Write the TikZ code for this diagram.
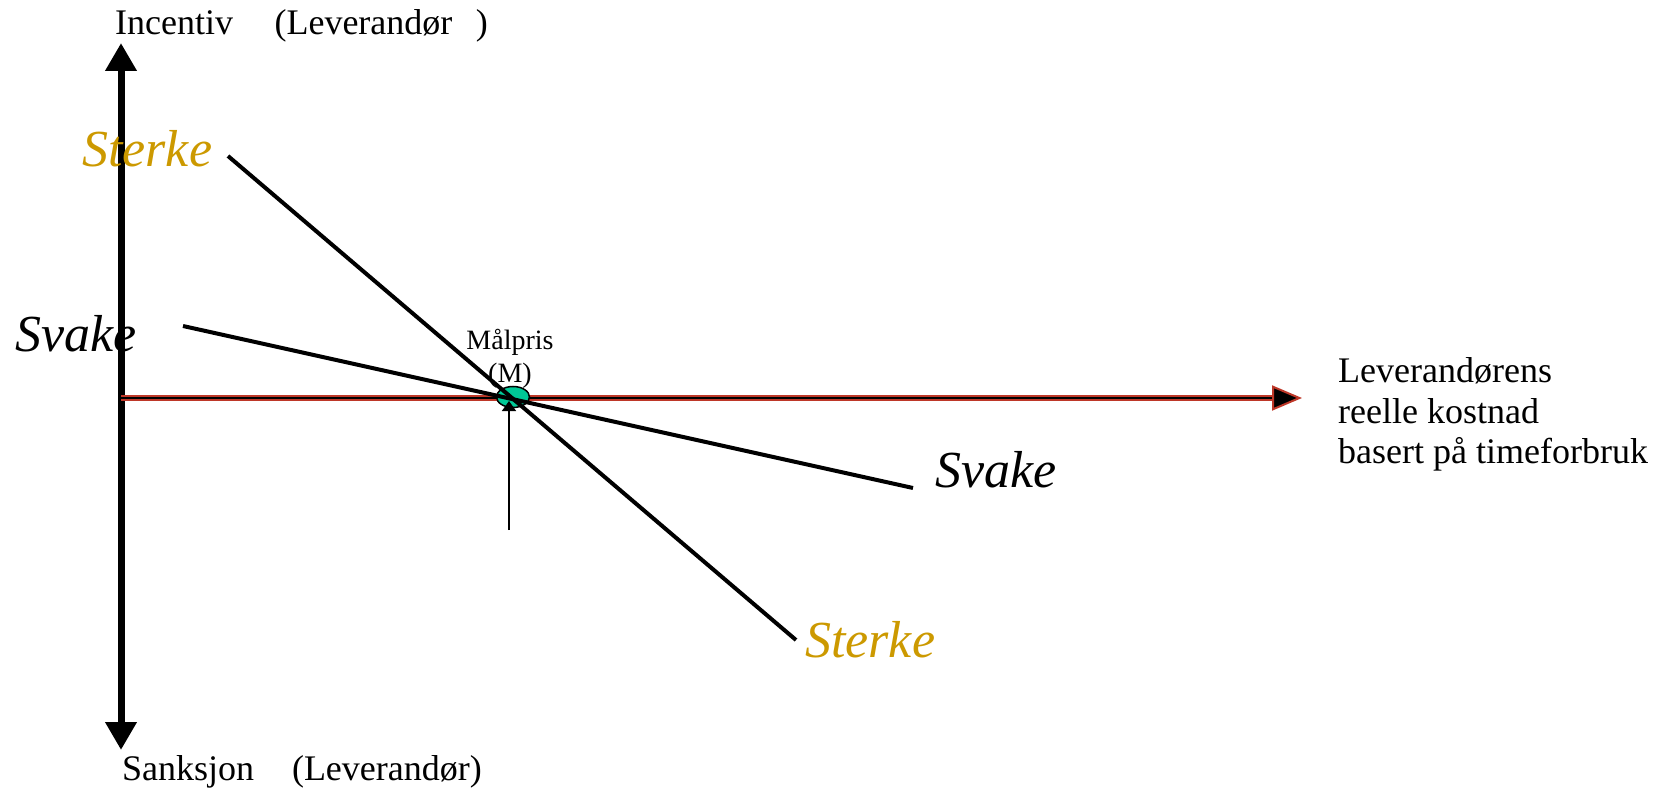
\documentclass[tikz,border=0pt]{standalone}
\usepackage{fontspec}
\setmainfont{Liberation Serif}
\usetikzlibrary{arrows.meta, shapes.geometric, positioning}
\definecolor{axisred}{RGB}{190,55,40}
\definecolor{sterkegold}{RGB}{204,153,0}
\definecolor{maalgreen}{RGB}{0,200,150}
\tikzset{
    axisLabel/.style={anchor=base west, inner sep=0pt, font=\fontsize{36}{40.5}\selectfont},
    bigLabel/.style={anchor=base west, inner sep=0pt, font=\fontsize{52}{58}\selectfont\itshape},
    vAxis/.style={{Triangle[length=28pt, width=30pt]}-{Triangle[length=28pt, width=30pt]}, line width=7pt},
    hAxis/.style={-{Triangle[length=30pt, width=25pt, color=axisred, fill=black]}, line width=2pt, black,
        preaction={draw=axisred, line width=6pt, shorten >=28pt, arrows=-}},
    slopeLine/.style={line width=4pt, black},
    maalPoint/.style={ellipse, draw, fill=maalgreen, line width=1.5pt, minimum width=33pt, minimum height=21pt, inner sep=0pt},
    maalArrow/.style={-{Triangle[length=10pt, width=14pt]}, line width=1.5pt},
}

\begin{document}
\begin{tikzpicture}[x=1pt, y=-1pt]
        \useasboundingbox (0,0) rectangle (1665,799);

        % akser
        \coordinate (vtop) at (121,43);
        \coordinate (vbot) at (121,750);
        \coordinate (O) at (121,398);
        \coordinate (xend) at (1302,398);
        \draw[vAxis] (vbot) -- (vtop);
        \draw[hAxis] (O) -- (xend);

        \node[maalPoint] (M) at (513,397) {};

        % linjer
        \coordinate (sterkeA) at (228,156);
        \coordinate (sterkeB) at (796,640);
        \coordinate (svakeA) at (183,326);
        \coordinate (svakeB) at (913,488);
        \draw[slopeLine] (sterkeA) -- (sterkeB);
        \draw[slopeLine] (svakeA) -- (svakeB);

        \coordinate (mfoot) at (509,530);
        \coordinate (mtip) at (509,401);
        \draw[maalArrow] (mfoot) -- (mtip);

        % tekster
        \node[axisLabel] (incentiv) at (115,35) {Incentiv\hspace{1.15em}(Leverandør\hspace{0.65em})};
        \node[axisLabel] (sanksjon) at (122,780) {Sanksjon\hspace{1.05em}(Leverandør)};
        \node[axisLabel] (kostnad1) at (1338,382) {Leverandørens};
        \node[axisLabel] (kostnad2) at (1338,423) {reelle kostnad};
        \node[axisLabel] (kostnad3) at (1338,463) {basert på timeforbruk};
        \node[anchor=base, inner sep=0pt, font=\fontsize{28}{32}\selectfont] (maalpris) at (510,350) {Målpris};
        \node[anchor=base, inner sep=0pt, font=\fontsize{28}{32}\selectfont] (mlabel) at (510,382) {(M)};

        \node[bigLabel, sterkegold] (sterkeTop) at (82,167) {Sterke};
        \node[bigLabel] (svakeLeft) at (15,352) {Svake};
        \node[bigLabel] (svakeRight) at (935,487) {Svake};
        \node[bigLabel, sterkegold] (sterkeBot) at (805,657) {Sterke};

    \end{tikzpicture}
\end{document}
